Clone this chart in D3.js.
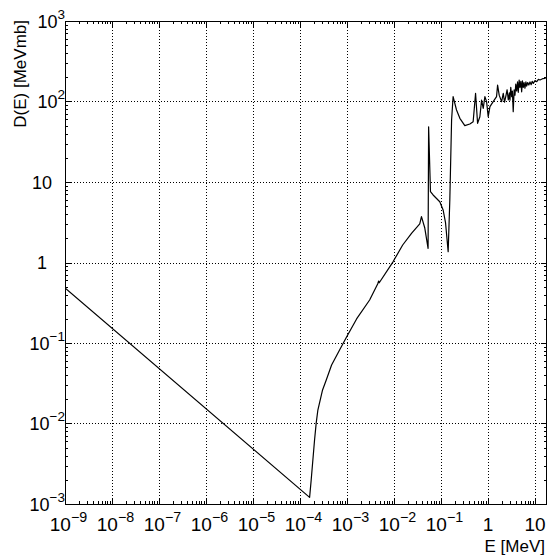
<!DOCTYPE html>
<meta charset="utf-8">
<script src="https://cdn.jsdelivr.net/npm/d3@7"></script>
<style>
  body { margin: 0; background: #fff; }
  text { font-family: "Liberation Sans", Arial, sans-serif; fill: #000; }
</style>
<div id="chart"></div>
<script>
  // energy [MeV] and D(E) [MeV mb]
  const energy = [1e-9, 1.60e-4, 1.73e-4, 2.04e-4, 2.21e-4, 2.40e-4, 3.02e-4, 3.62e-4, 4.70e-4, 6.95e-4,
    9.79e-4, 1.60e-3, 3.03e-3, 4.49e-3, 4.72e-3, 4.85e-3, 9.53e-3, 1.53e-2, 2.38e-2, 3.53e-2, 3.84e-2,
    4.52e-2, 5.31e-2, 5.45e-2, 5.97e-2, 6.79e-2, 9.42e-2, 0.111, 0.125, 0.142, 0.154, 0.168, 0.181,
    0.214, 0.252, 0.321, 0.411, 0.483, 0.544, 0.600, 0.671, 0.731, 0.791, 0.859, 0.933, 1.01, 1.10,
    1.29, 1.52, 1.60, 1.73, 1.95, 2.11, 2.25, 2.41, 2.55, 2.70, 2.85, 2.93, 3.05, 3.19, 3.30, 3.44,
    3.60, 3.75, 3.90, 4.07, 4.25, 4.41, 4.60, 4.79, 5.00, 5.20, 5.40, 5.63, 5.85, 6.12, 6.40, 6.65,
    7.0, 7.4, 7.82, 8.3, 8.7, 9.2, 10.0, 10.9, 11.8, 12.8, 14.5, 16.3, 18]
  const dose = [0.482, 1.21e-3, 1.99e-3, 6.24e-3, 1.01e-2, 1.47e-2, 2.61e-2, 3.47e-2, 5.33e-2, 8.18e-2,
    0.119, 0.199, 0.342, 0.541, 0.589, 0.56, 1.02, 1.65, 2.32, 3.01, 3.71,
    2.68, 1.50, 48.6, 7.58, 6.90, 5.69, 4.49, 3.10, 1.36, 5.97, 58.9, 115,
    78.4, 61.8, 50.1, 52.5, 56.1, 126, 53.6, 64.7, 104, 82.3, 115, 99.5, 64.7, 86.2,
    99.5, 115, 160, 120, 99.5, 126, 98, 118, 140, 105, 128, 104, 150, 115, 135, 74.7,
    140, 120, 165, 135, 175, 130, 185, 150, 178, 132, 180, 150, 172, 146, 175, 155,
    172, 160, 175, 162, 178, 168, 182, 176, 188, 185, 192, 194, 201]

  const xTicks = [1e-9, 1e-8, 1e-7, 1e-6, 1e-5, 1e-4, 1e-3, 1e-2, 1e-1, 1, 10]
  const xTickLabels = ['10^-9', '10^-8', '10^-7', '10^-6', '10^-5', '10^-4', '10^-3', '10^-2', '10^-1', '1', '10']
  const yTicks = [1e-3, 1e-2, 1e-1, 1, 10, 100, 1000]
  const yTickLabels = ['10^-3', '10^-2', '10^-1', '1', '10', '10^2', '10^3']

  const width = 548
  const height = 557
  const margin = { top: 21, right: 1, bottom: 53, left: 65 }
  const x0 = margin.left, x1 = width - margin.right
  const y0 = height - margin.bottom, y1 = margin.top

  const x = d3.scaleLog().domain([1e-9, 18]).range([x0, x1])
  const y = d3.scaleLog().domain([1e-3, 1e3]).range([y0, y1])
  const px = v => Math.round(v) + 0.5

  const svg = d3.select('#chart').append('svg')
    .attr('width', width)
    .attr('height', height)

  // minor ticks at 2..9 of every decade
  function minors(scale) {
    const [lo, hi] = scale.domain()
    const out = []
    for (let e = Math.floor(Math.log10(lo)); e <= Math.ceil(Math.log10(hi)); e++) {
      for (let k = 2; k <= 9; k++) {
        const v = k * Math.pow(10, e)
        if (v > lo && v < hi) out.push(v)
      }
    }
    return out
  }

  // dotted grid
  const grid = svg.append('g')
    .attr('stroke', '#000')
    .attr('stroke-width', 1)
    .attr('stroke-dasharray', '1,2')
  grid.selectAll('.gx').data(xTicks.slice(1)).join('line')
    .attr('x1', d => px(x(d))).attr('x2', d => px(x(d)))
    .attr('y1', y1).attr('y2', y0)
  grid.selectAll('.gy').data(yTicks.slice(1, -1)).join('line')
    .attr('class', 'gy')
    .attr('y1', d => px(y(d))).attr('y2', d => px(y(d)))
    .attr('x1', x0).attr('x2', x1)

  // the curve
  svg.append('clipPath').attr('id', 'clip')
    .append('rect').attr('x', x0).attr('y', y1).attr('width', x1 - x0).attr('height', y0 - y1)
  const points = energy.map((e, i) => [e, dose[i]])
  svg.append('path')
    .datum(points)
    .attr('clip-path', 'url(#clip)')
    .attr('fill', 'none')
    .attr('stroke', '#000')
    .attr('stroke-width', 1.2)
    .attr('stroke-linejoin', 'round')
    .attr('d', d3.line().x(d => x(d[0])).y(d => y(d[1])))

  // ticks on all four sides, pointing inwards
  const ticks = svg.append('g').attr('stroke', '#000').attr('stroke-width', 1)
  const xt = xTicks.map(v => ({ v, len: 6 })).concat(minors(x).map(v => ({ v, len: 3 })))
  const yt = yTicks.map(v => ({ v, len: 6 })).concat(minors(y).map(v => ({ v, len: 3 })))
  ticks.selectAll('.tb').data(xt).join('line').attr('class', 'tb')
    .attr('x1', d => px(x(d.v))).attr('x2', d => px(x(d.v)))
    .attr('y1', y0).attr('y2', d => y0 - d.len)
  ticks.selectAll('.tt').data(xt).join('line').attr('class', 'tt')
    .attr('x1', d => px(x(d.v))).attr('x2', d => px(x(d.v)))
    .attr('y1', y1).attr('y2', d => y1 + d.len)
  ticks.selectAll('.tl').data(yt).join('line').attr('class', 'tl')
    .attr('y1', d => px(y(d.v))).attr('y2', d => px(y(d.v)))
    .attr('x1', x0).attr('x2', d => x0 + d.len)
  ticks.selectAll('.tr').data(yt).join('line').attr('class', 'tr')
    .attr('y1', d => px(y(d.v))).attr('y2', d => px(y(d.v)))
    .attr('x1', x1).attr('x2', d => x1 - d.len)

  // frame
  svg.append('rect')
    .attr('x', x0 + 0.5).attr('y', y1 + 0.5)
    .attr('width', x1 - x0 - 1).attr('height', y0 - y1)
    .attr('fill', 'none').attr('stroke', '#000').attr('stroke-width', 1)

  function addLabel(sel, label, size) {
    const parts = label.split('^')
    sel.append('tspan').text(parts[0])
    if (parts.length > 1) {
      sel.append('tspan')
        .attr('dy', -9)
        .attr('font-size', size * 0.75)
        .text(parts[1].replace('-', '\u2212'))
    }
  }

  // x tick labels
  xTicks.forEach((v, i) => {
    const lab = xTickLabels[i]
    const t = svg.append('text')
      .attr('x', x(v) + (lab.includes('^') ? 3.5 : 0))
      .attr('y', 531)
      .attr('text-anchor', 'middle')
      .attr('font-size', 19)
    addLabel(t, lab, 19)
  })

  // y tick labels
  yTicks.forEach((v, i) => {
    const lab = yTickLabels[i]
    const exp = lab.includes('^')
    const t = svg.append('text')
      .attr('x', exp ? 65 : 42)
      .attr('y', y(v) + 6.5)
      .attr('text-anchor', exp ? 'end' : 'middle')
      .attr('font-size', 18)
    addLabel(t, lab, 18)
  })

  // axis titles
  svg.append('text')
    .attr('x', 545).attr('y', 552)
    .attr('text-anchor', 'end')
    .attr('font-size', 17)
    .text('E [MeV]')
  svg.append('text')
    .attr('transform', 'translate(26,20) rotate(-90)')
    .attr('text-anchor', 'end')
    .attr('font-size', 17)
    .text('D(E) [MeVmb]')
</script>
